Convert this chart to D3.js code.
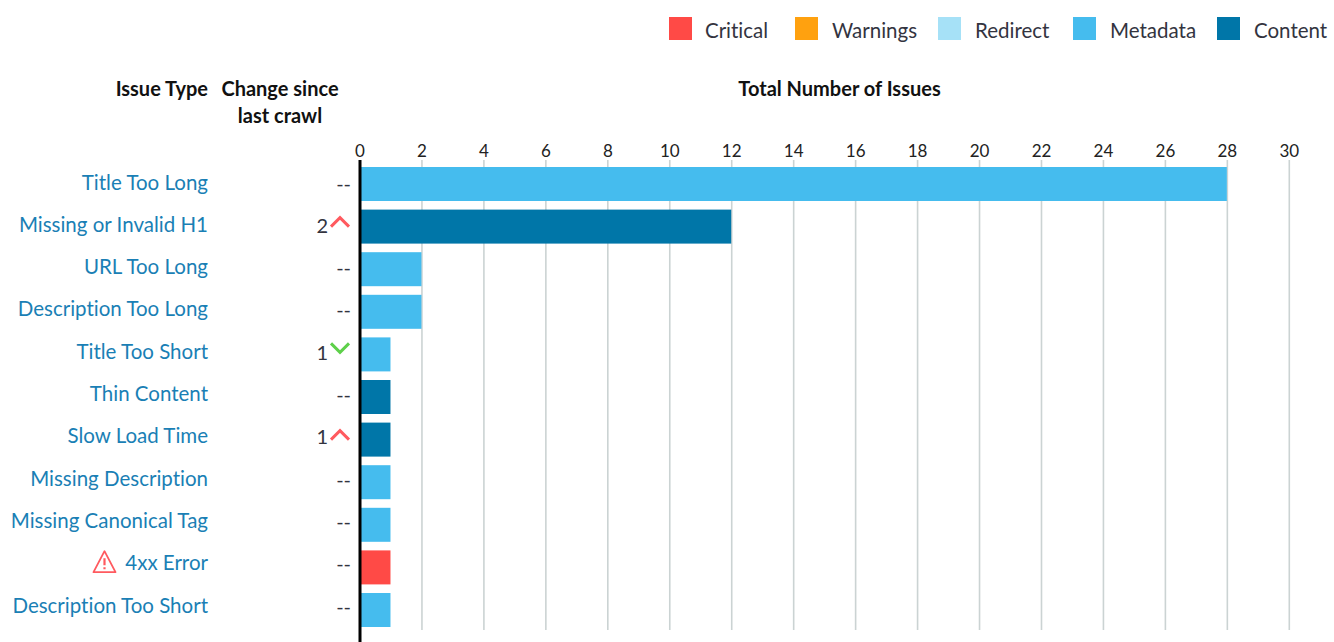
<!DOCTYPE html>
<html>
<head>
<meta charset="utf-8">
<script src="https://cdn.jsdelivr.net/npm/d3@7"></script>
<style>
    html, body { margin: 0; padding: 0; background: #fff; overflow: hidden; }
    text { font-family: Lato, sans-serif; font-variant-ligatures: none; }
    .head { font-weight: 700; font-size: 20px; fill: #111; }
    .issue { font-size: 20.5px; fill: #1a7fb5; }
    .change { font-size: 20px; fill: #33343f; }
    .legend-label { font-size: 20.5px; fill: #33343f; }
    .axis text { font-size: 17px; fill: #222; }
    .axis path { display: none; }
    .axis line { stroke: #cbd3d3; stroke-width: 1.6; }
</style>
</head>
<body>
<div id="chart"></div>
<script>
    var issues = ["Title Too Long", "Missing or Invalid H1", "URL Too Long", "Description Too Long",
        "Title Too Short", "Thin Content", "Slow Load Time", "Missing Description",
        "Missing Canonical Tag", "4xx Error", "Description Too Short"];
    var totals = [28, 12, 2, 2, 1, 1, 1, 1, 1, 1, 1];
    var groups = ["Metadata", "Content", "Metadata", "Metadata", "Metadata", "Content",
        "Content", "Metadata", "Metadata", "Critical", "Metadata"];
    var changes = ["--", "2", "--", "--", "1", "--", "1", "--", "--", "--", "--"];
    var directions = ["", "up", "", "", "down", "", "up", "", "", "", ""];
    var xTicks = [0, 2, 4, 6, 8, 10, 12, 14, 16, 18, 20, 22, 24, 26, 28, 30];
    var legendNames = ["Critical", "Warnings", "Redirect", "Metadata", "Content"];
    var legendColors = ["#ff4a46", "#ffa10f", "#a6e1f7", "#45bcee", "#0076a8"];

    var width = 1334,
        height = 642;

    var color = d3.scaleOrdinal().domain(legendNames).range(legendColors);

    var x = d3.scaleLinear().domain([0, 30]).range([359.5, 1288.8]),
        y = d3.scaleBand().domain(issues).range([167, 627]).paddingInner(0.2019).paddingOuter(0),
        labelY = d3.scalePoint().domain(issues).range([189.5, 612.5]);

    var svg = d3.select("#chart").append("svg")
        .attr("width", width)
        .attr("height", height)
        .style("display", "block");

    // legend
    var legendX = [669, 795, 938, 1073, 1217];
    var legend = svg.selectAll(".legend")
        .data(legendNames)
        .enter().append("g")
        .attr("class", "legend")
        .attr("transform", function(d, i) { return "translate(" + legendX[i] + ",17)"; });
    legend.append("rect")
        .attr("width", 23)
        .attr("height", 23)
        .attr("fill", function(d) { return color(d); });
    legend.append("text")
        .attr("class", "legend-label")
        .attr("x", function(d) { return d == "Critical" ? 36 : 37; })
        .attr("y", 21)
        .text(function(d) { return d; });

    // column headers
    svg.append("text").attr("class", "head").attr("x", 208).attr("y", 96).attr("text-anchor", "end").text("Issue Type");
    svg.append("text").attr("class", "head").attr("x", 280).attr("y", 96).attr("text-anchor", "middle").text("Change since");
    svg.append("text").attr("class", "head").attr("x", 280).attr("y", 123).attr("text-anchor", "middle").text("last crawl");
    svg.append("text").attr("class", "head").attr("x", 839.5).attr("y", 96).attr("text-anchor", "middle").text("Total Number of Issues");

    // grid and tick labels
    var xAxis = d3.axisTop(x)
        .tickValues(xTicks)
        .tickSize(-470)
        .tickPadding(3);
    svg.append("g")
        .attr("class", "axis")
        .attr("transform", "translate(0,160)")
        .call(xAxis);

    // bars
    svg.selectAll(".bar")
        .data(issues)
        .enter().append("rect")
        .attr("class", "bar")
        .attr("x", x(0))
        .attr("y", function(d) { return y(d); })
        .attr("width", function(d, i) { return x(totals[i]) - x(0); })
        .attr("height", y.bandwidth())
        .attr("fill", function(d, i) { return color(groups[i]); });

    // zero line
    svg.append("line")
        .attr("x1", x(0) + 0.5)
        .attr("x2", x(0) + 0.5)
        .attr("y1", 160)
        .attr("y2", height)
        .attr("stroke", "#000")
        .attr("stroke-width", 3);

    // issue names
    svg.selectAll(".issue")
        .data(issues)
        .enter().append("text")
        .attr("class", "issue")
        .attr("x", 208)
        .attr("y", function(d) { return labelY(d); })
        .attr("text-anchor", "end")
        .text(function(d) { return d; });

    // warning icon next to the critical issue
    var warn = svg.append("g")
        .attr("transform", "translate(104.5," + (labelY("4xx Error") - 8) + ")");
    warn.append("path")
        .attr("d", "M0,-11 L11,10 L-11,10 Z")
        .attr("fill", "none")
        .attr("stroke", "#ff5a5f")
        .attr("stroke-width", 1.8)
        .attr("stroke-linejoin", "round");
    warn.append("path")
        .attr("d", "M0,-4 L0,3 M0,5 L0,7")
        .attr("stroke", "#ff5a5f")
        .attr("stroke-width", 2.2);

    // change since last crawl
    svg.selectAll(".change")
        .data(issues)
        .enter().append("text")
        .attr("class", "change")
        .attr("x", function(d, i) { return changes[i] == "--" ? 351 : 328; })
        .attr("y", function(d) { return labelY(d) + 1; })
        .attr("text-anchor", "end")
        .text(function(d, i) { return changes[i]; });

    svg.selectAll(".arrow")
        .data(issues.filter(function(d, i) { return directions[i] != ""; }))
        .enter().append("path")
        .attr("class", "arrow")
        .attr("d", function(d) {
            return directions[issues.indexOf(d)] == "up" ? "M-9,5 L0,-4 L9,5" : "M-9,-6 L0,3 L9,-6";
        })
        .attr("transform", function(d) { return "translate(340," + (y(d) + 12) + ")"; })
        .attr("fill", "none")
        .attr("stroke-width", 3)
        .attr("stroke", function(d) {
            return directions[issues.indexOf(d)] == "up" ? "#ff5a5f" : "#5ed04a";
        });
</script>
</body>
</html>
